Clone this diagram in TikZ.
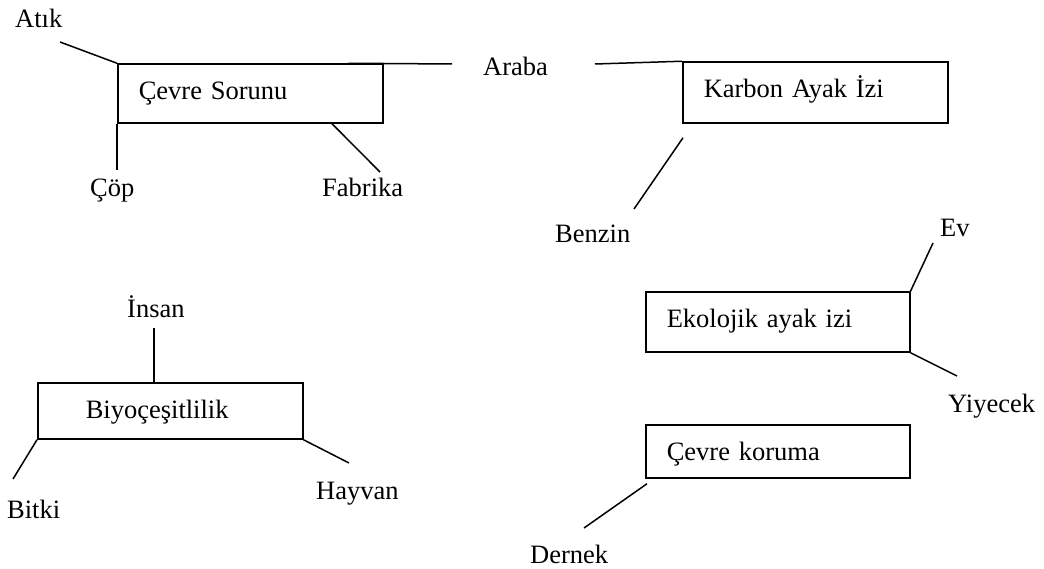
\documentclass[tikz,border=0pt]{standalone}
\usepackage{fontspec}
\setmainfont{Liberation Serif}
\begin{document}
\begin{tikzpicture}[x=1pt,y=-1pt,
  every node/.style={font=\fontsize{26.5}{30}\selectfont},
  topic/.style={draw,line width=1.5pt,anchor=base west,inner ysep=0pt,
    align=left},
  lbl/.style={anchor=base west,inner sep=0pt},
  link/.style={line width=1.5pt}]
\useasboundingbox (0,0) rectangle (1044,569);

% topic boxes (anchored at the text baseline)
\node[topic,inner xsep=21pt,text width=223pt,text height=36pt,text depth=23pt]
  (cs) at (117,100) {Çevre Sorunu};
\node[topic,inner xsep=21pt,text width=223pt,text height=36pt,text depth=25pt]
  (kb) at (682,98) {Karbon Ayak İzi};
\node[topic,inner xsep=48pt,text width=169pt,text height=35pt,text depth=21pt]
  (bio) at (37,418) {Biyoçeşitlilik};
\node[topic,inner xsep=21pt,text width=222pt,text height=35pt,text depth=25pt]
  (eko) at (645,327) {Ekolojik ayak izi};
\node[topic,inner xsep=21pt,text width=222pt,text height=35pt,text depth=18pt]
  (kor) at (645,460) {Çevre koruma};

% keyword labels
\node[lbl] (atik) at (15,28) {Atık};
\node[lbl] (cop) at (90,197) {Çöp};
\node[lbl] (fab) at (322,197) {Fabrika};
\node[lbl] (araba) at (483,76) {Araba};
\node[lbl] (benzin) at (555,243) {Benzin};
\node[lbl] (insan) at (127,317) {İnsan};
\node[lbl] (bitki) at (7,518) {Bitki};
\node[lbl] (hayvan) at (316,499) {Hayvan};
\node[lbl] (ev) at (940,237) {Ev};
\node[lbl] (yiyecek) at (948,412) {Yiyecek};
\node[lbl] (dernek) at (530,563) {Dernek};

% free ends of the connectors, next to their labels
\coordinate (atik-e) at (60,42);
\coordinate (cop-e) at (117,170);
\coordinate (fab-e) at (380,172);
\coordinate (araba-l) at (452,64);
\coordinate (araba-r) at (595,64);
\coordinate (benzin-e) at (634,209);
\coordinate (insan-e) at (154,328);
\coordinate (bitki-e) at (13,479);
\coordinate (hayvan-e) at (349,463);
\coordinate (ev-e) at (933,243);
\coordinate (yiyecek-e) at (957,376);
\coordinate (dernek-e) at (584,528);

% connectors
\draw[link] (cs.north west) -- (atik-e);
\draw[link] (cs.south west) -- (cop-e);
\draw[link] ([xshift=215pt]cs.south west) -- (fab-e);
\draw[link] ([xshift=-35pt]cs.north east) -- (araba-l);
\draw[link] (kb.north west) -- (araba-r);
\draw[link] ([xshift=1pt,yshift=-14pt]kb.south west) -- (benzin-e);
\draw[link] ([xshift=117pt]bio.north west) -- (insan-e);
\draw[link] (bio.south west) -- (bitki-e);
\draw[link] (bio.south east) -- (hayvan-e);
\draw[link] (eko.north east) -- (ev-e);
\draw[link] (eko.south east) -- (yiyecek-e);
\draw[link] ([xshift=2pt,yshift=-5pt]kor.south west) -- (dernek-e);
\end{tikzpicture}
\end{document}
